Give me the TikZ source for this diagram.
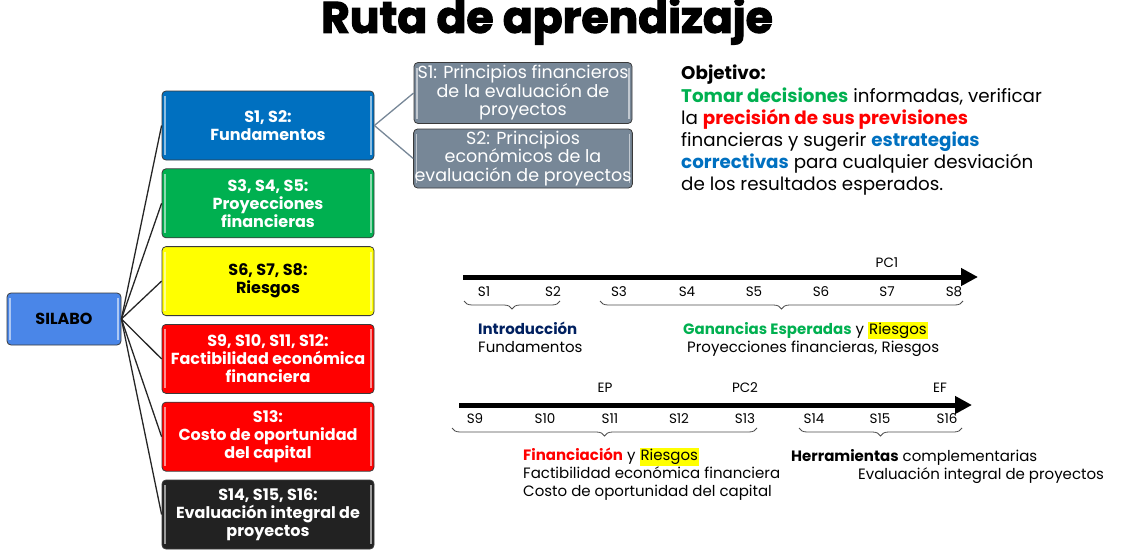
\documentclass[tikz,border=0pt]{standalone}
\usepackage{fontspec}
\setmainfont{Poppins}
\newfontfamily\titlefont{Poppins}[BoldFeatures={FakeBold=2.5}]
\usepackage{xcolor}
\usepackage{tikz}
\usetikzlibrary{arrows.meta,positioning,decorations.pathreplacing,calc}
\definecolor{RutaBlue}{HTML}{0070C0}
\definecolor{RutaSky}{HTML}{4A86E8}
\definecolor{RutaGreen}{HTML}{00B050}
\definecolor{RutaYellow}{HTML}{FFFF00}
\definecolor{RutaRed}{HTML}{FF0000}
\definecolor{RutaDark}{HTML}{222222}
\definecolor{RutaSlate}{HTML}{778797}
\definecolor{RutaNavy}{HTML}{002060}
\definecolor{RutaEdge}{HTML}{3A3A3A}
\setlength{\fboxsep}{1pt}
\tikzset{
  bisel/.style={path picture={
    \draw[white,opacity=.55,line width=1.6pt]
      ([shift={(3pt,-5pt)}]path picture bounding box.north west) --
      ([shift={(3pt,5pt)}]path picture bounding box.south west);
    \draw[white,opacity=.55,line width=1.6pt]
      ([shift={(-3pt,-5pt)}]path picture bounding box.north east) --
      ([shift={(-3pt,5pt)}]path picture bounding box.south east);}},
  tema/.style={draw=RutaEdge,rounded corners=4pt,line width=0.8pt,bisel,align=center,
    minimum width=212pt,minimum height=69pt,inner sep=2pt,text=white,
    font=\fontsize{16}{18}\selectfont\bfseries},
  silabo/.style={tema,fill=RutaSky,text=black,minimum width=114pt,minimum height=52pt},
  sub/.style={draw=RutaEdge,rounded corners=4pt,line width=0.8pt,fill=RutaSlate,bisel,
    align=center,text=white,minimum width=218pt,inner sep=1pt,
    font=\fontsize{17.5}{18.5}\selectfont},
  rama/.style={line width=1.3pt,draw=black!85},
  subrama/.style={line width=1.3pt,draw=RutaSlate},
  eje/.style={-{Triangle[length=17pt,width=17pt]},line width=5pt},
  llave/.style={decorate,decoration={brace,mirror,amplitude=8pt},draw=black!70,line width=0.8pt},
  sem/.style={font=\fontsize{13.5}{15}\selectfont,inner sep=0pt},
  tag/.style={font=\fontsize{15}{17.6}\selectfont,align=left,inner sep=0pt}
}
\begin{document}
\begin{tikzpicture}[x=1pt,y=-1pt]
  \useasboundingbox (0,0) rectangle (1122,554);
  \node[font=\titlefont\fontsize{44}{44}\selectfont\bfseries] (titulo) at (547,21) {Ruta de aprendizaje};

  % arbol del silabo
  \node[silabo] (silabo) at (64,319) {SILABO};
  \node[tema,fill=RutaBlue] (fund) at (268,125.5) {S1, S2:\\Fundamentos};
  \node[tema,fill=RutaGreen,below=8pt of fund] (proy) {S3, S4, S5:\\Proyecciones\\financieras};
  \node[tema,fill=RutaYellow,text=black,below=8pt of proy] (ries) {S6, S7, S8:\\Riesgos};
  \node[tema,fill=RutaRed,below=8pt of ries] (fact) {S9, S10, S11, S12:\\Factibilidad económica\\financiera};
  \node[tema,fill=RutaRed,below=8pt of fact] (costo) {S13:\\Costo de oportunidad\\del capital};
  \node[tema,fill=RutaDark,below=8pt of costo] (eval) {S14, S15, S16:\\Evaluación integral de\\proyectos};
  \foreach \t in {fund,proy,ries,fact,costo,eval} \draw[rama] (silabo.east) -- (\t.west);

  \node[sub,minimum height=61pt] (subA) at (523,93) {S1: Principios financieros\\de la evaluación de\\proyectos};
  \node[sub,minimum height=59pt] (subB) at (523,158.5) {S2: Principios\\económicos de la\\evaluación de proyectos};
  \draw[subrama] (fund.east) -- (subA.west); \draw[subrama] (fund.east) -- (subB.west);

  % objetivo
  \node[anchor=north west,align=left,inner sep=0pt,font=\fontsize{18.3}{22.2}\selectfont] (objetivo) at (681,65)
    {\textbf{Objetivo:}\\
     \textcolor{RutaGreen}{\textbf{Tomar decisiones}} informadas, verificar\\
     la \textcolor{RutaRed}{\textbf{precisión de sus previsiones}}\\
     financieras y sugerir \textcolor{RutaBlue}{\textbf{estrategias}}\\
     \textcolor{RutaBlue}{\textbf{correctivas}} para cualquier desviación\\
     de los resultados esperados.};

  % linea de tiempo S1-S8
  \coordinate (ejeA0) at (463,277); \coordinate (ejeA1) at (978,277);
  \draw[eje] (ejeA0) -- (ejeA1);
  \node[sem] (pc1) at (887,263) {PC1};
  \node[sem] (s1) at (484,292) {S1}; \node[sem] (s2) at (553,292) {S2};
  \node[sem] (s3) at (619,292) {S3}; \node[sem] (s4) at (687,292) {S4};
  \node[sem] (s5) at (754,292) {S5}; \node[sem] (s6) at (821,292) {S6};
  \node[sem] (s7) at (887,292) {S7}; \node[sem] (s8) at (954,292) {S8};
  \coordinate (llA0) at (464,301); \coordinate (llA1) at (560,301);
  \coordinate (llB0) at (600,301); \coordinate (llB1) at (963,301);
  \draw[llave] (llA0) -- (llA1); \draw[llave] (llB0) -- (llB1);
  \node[tag,anchor=base west] (intro) at (478,352) {\textcolor{RutaNavy}{\textbf{Introducción}}\\Fundamentos};
  \node[tag,anchor=base west] (ganan) at (683,334) {\textcolor{RutaGreen}{\textbf{Ganancias Esperadas}} y \colorbox{RutaYellow}{Riesgos}};
  \node[tag,anchor=base west] (proyR) at (687,352) {Proyecciones financieras, Riesgos};

  % linea de tiempo S9-S16
  \coordinate (ejeB0) at (459,405); \coordinate (ejeB1) at (972,405);
  \draw[eje] (ejeB0) -- (ejeB1);
  \node[sem] (ep) at (605,388) {EP}; \node[sem] (pc2) at (745,388) {PC2}; \node[sem] (ef) at (940,388) {EF};
  \node[sem] (s9) at (475,419) {S9}; \node[sem] (s10) at (545,419) {S10};
  \node[sem] (s11) at (610,419) {S11}; \node[sem] (s12) at (679,419) {S12};
  \node[sem] (s13) at (745,419) {S13}; \node[sem] (s14) at (814,419) {S14};
  \node[sem] (s15) at (880,419) {S15}; \node[sem] (s16) at (947,419) {S16};
  \coordinate (llC0) at (452,428); \coordinate (llC1) at (757,428);
  \coordinate (llD0) at (799,428); \coordinate (llD1) at (962,428);
  \draw[llave] (llC0) -- (llC1); \draw[llave] (llD0) -- (llD1);
  \node[tag,anchor=base west] (finan) at (523,496)
    {\textcolor{RutaRed}{\textbf{Financiación}} y \colorbox{RutaYellow}{Riesgos}\\Factibilidad económica financiera\\Costo de oportunidad del capital};
  \node[tag,anchor=base west] (herr) at (791,461) {\textbf{Herramientas} complementarias};
  \node[tag,anchor=base west] (evalT) at (858,479) {Evaluación integral de proyectos};
\end{tikzpicture}
\end{document}
